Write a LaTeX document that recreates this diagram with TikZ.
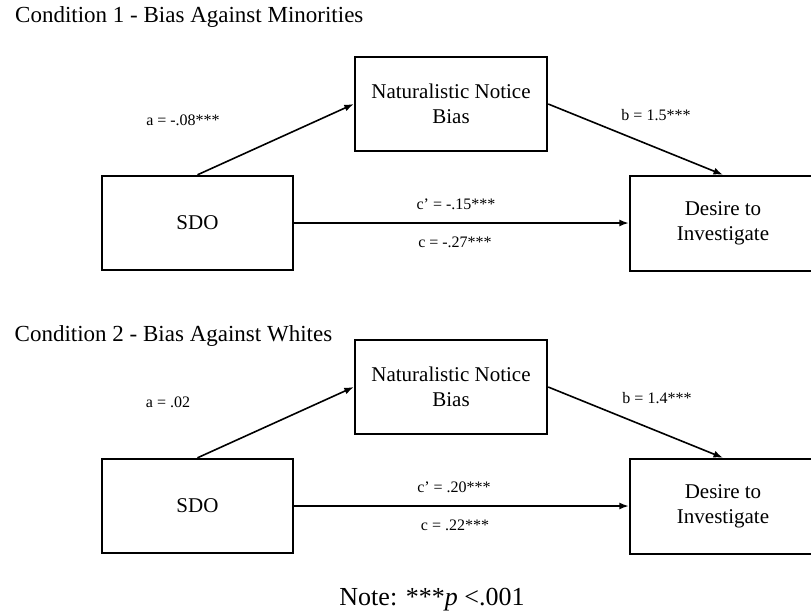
\documentclass[tikz,border=0pt]{standalone}
\usepackage{fontspec}
\setmainfont{Liberation Serif}
\usetikzlibrary{arrows.meta}
\begin{document}
\begin{tikzpicture}[x=1pt,y=-1pt,
  box/.style={draw,line width=2.4pt,align=center,inner sep=0pt,font=\fontsize{21}{25.5}\selectfont},
  arr/.style={line width=1.6pt,-{Latex[length=9.5pt,width=7pt]}},
  lab/.style={font=\fontsize{16}{18}\selectfont,inner sep=0pt},
  ttl/.style={font=\fontsize{23}{26}\selectfont,inner sep=0pt,anchor=base west}]
\clip (0,0) rectangle (811,611);
\fill[white] (0,0) rectangle (811,611);
% Condition 1
\node[ttl] (t1) at (15,22) {Condition 1 - Bias Against Minorities};
\node[box,minimum width=192pt,minimum height=94pt] (m1) at (451,104) {Naturalistic Notice\\Bias};
\node[box,minimum width=191pt,minimum height=94pt] (x1) at (197.5,223) {SDO};
\node[box,minimum width=186pt,minimum height=95pt] (y1) at (723,223.5) {Desire to\\Investigate};
\draw[arr] (x1.north) -- (m1.west);
\draw[arr] (m1.east) -- (y1.north);
\draw[arr] (x1.east) -- (x1.east -| y1.west);
\node[lab] (a1) at (183,120) {a = -.08***};
\node[lab] (b1) at (656,115) {b = 1.5***};
\node[lab] (cp1) at (456,204) {c’ = -.15***};
\node[lab] (c1) at (455,242) {c = -.27***};
% Condition 2
\node[ttl] (t2) at (14.5,341) {Condition 2 - Bias Against Whites};
\node[box,minimum width=192pt,minimum height=94pt] (m2) at (451,387) {Naturalistic Notice\\Bias};
\node[box,minimum width=191pt,minimum height=94pt] (x2) at (197.5,506) {SDO};
\node[box,minimum width=186pt,minimum height=95pt] (y2) at (723,506.5) {Desire to\\Investigate};
\draw[arr] (x2.north) -- (m2.west);
\draw[arr] (m2.east) -- (y2.north);
\draw[arr] (x2.east) -- (x2.east -| y2.west);
\node[lab] (a2) at (168,402) {a = .02};
\node[lab] (b2) at (657,398) {b = 1.4***};
\node[lab] (cp2) at (454,487) {c’ = .20***};
\node[lab] (c2) at (455,525) {c = .22***};
% Note
\node[font=\fontsize{26}{30}\selectfont,inner sep=0pt,anchor=base] (note) at (432,605) {Note: ***\textit{p} <.001};
\end{tikzpicture}
\end{document}
